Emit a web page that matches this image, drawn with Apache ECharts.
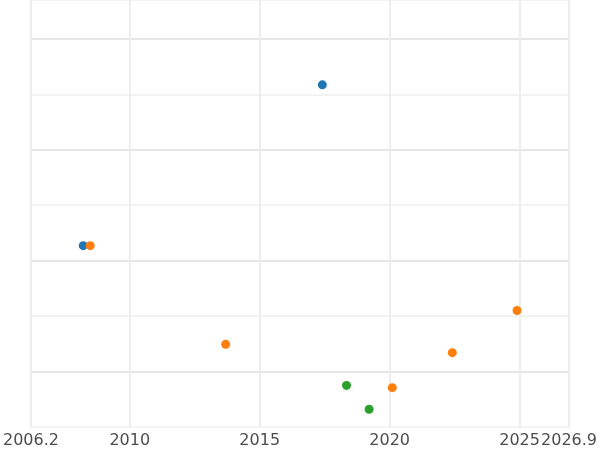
<!DOCTYPE html>
<html>
<head>
<meta charset="utf-8">
<script src="https://cdn.jsdelivr.net/npm/echarts@6/dist/echarts.min.js"></script>
<style>html,body{margin:0;background:#fff}#chart{width:600px;height:450px}</style>
</head>
<body>
<div id="chart"></div>
<script>
const blueX = [2017.41, 2008.21];
const blueY = [5.17, 2.27];
const orangeX = [2008.48, 2013.69, 2020.1, 2022.41, 2024.9];
const orangeY = [2.27, 0.49, -0.29, 0.34, 1.10];
const greenX = [2018.34, 2019.21];
const greenY = [-0.25, -0.68];

const zip = (xs, ys) => xs.map((x, i) => [x, ys[i]]);

const myChart = echarts.init(document.getElementById('chart'));
myChart.setOption({
  animation: false,
  backgroundColor: '#fff',
  grid: { left: 0, right: 0, top: 0, bottom: 23, containLabel: false },
  xAxis: {
    type: 'value',
    min: 2006.2,
    max: 2026.9,
    splitNumber: 4,
    axisLine: { show: false },
    axisTick: { show: false },
    axisLabel: { color: '#4d4d4d', fontSize: 16, fontFamily: 'DejaVu Sans', margin: 6, formatter: v => String(v) },
    splitLine: { lineStyle: { color: '#ebebeb', width: 1.8 } }
  },
  yAxis: {
    type: 'value',
    min: -1,
    max: 6.7,
    splitNumber: 8,
    axisLine: { show: false },
    axisTick: { show: false },
    axisLabel: { show: false },
    splitLine: { lineStyle: { color: ['#f3f3f3', '#e6e6e6'], width: 1.8 } }
  },
  series: [
    { type: 'scatter', symbolSize: 9, itemStyle: { color: '#1f77b4', opacity: 1 }, data: zip(blueX, blueY) },
    { type: 'scatter', symbolSize: 9, itemStyle: { color: '#ff7f0e', opacity: 1 }, data: zip(orangeX, orangeY) },
    { type: 'scatter', symbolSize: 9, itemStyle: { color: '#2ca02c', opacity: 1 }, data: zip(greenX, greenY) }
  ]
});
</script>
</body>
</html>
